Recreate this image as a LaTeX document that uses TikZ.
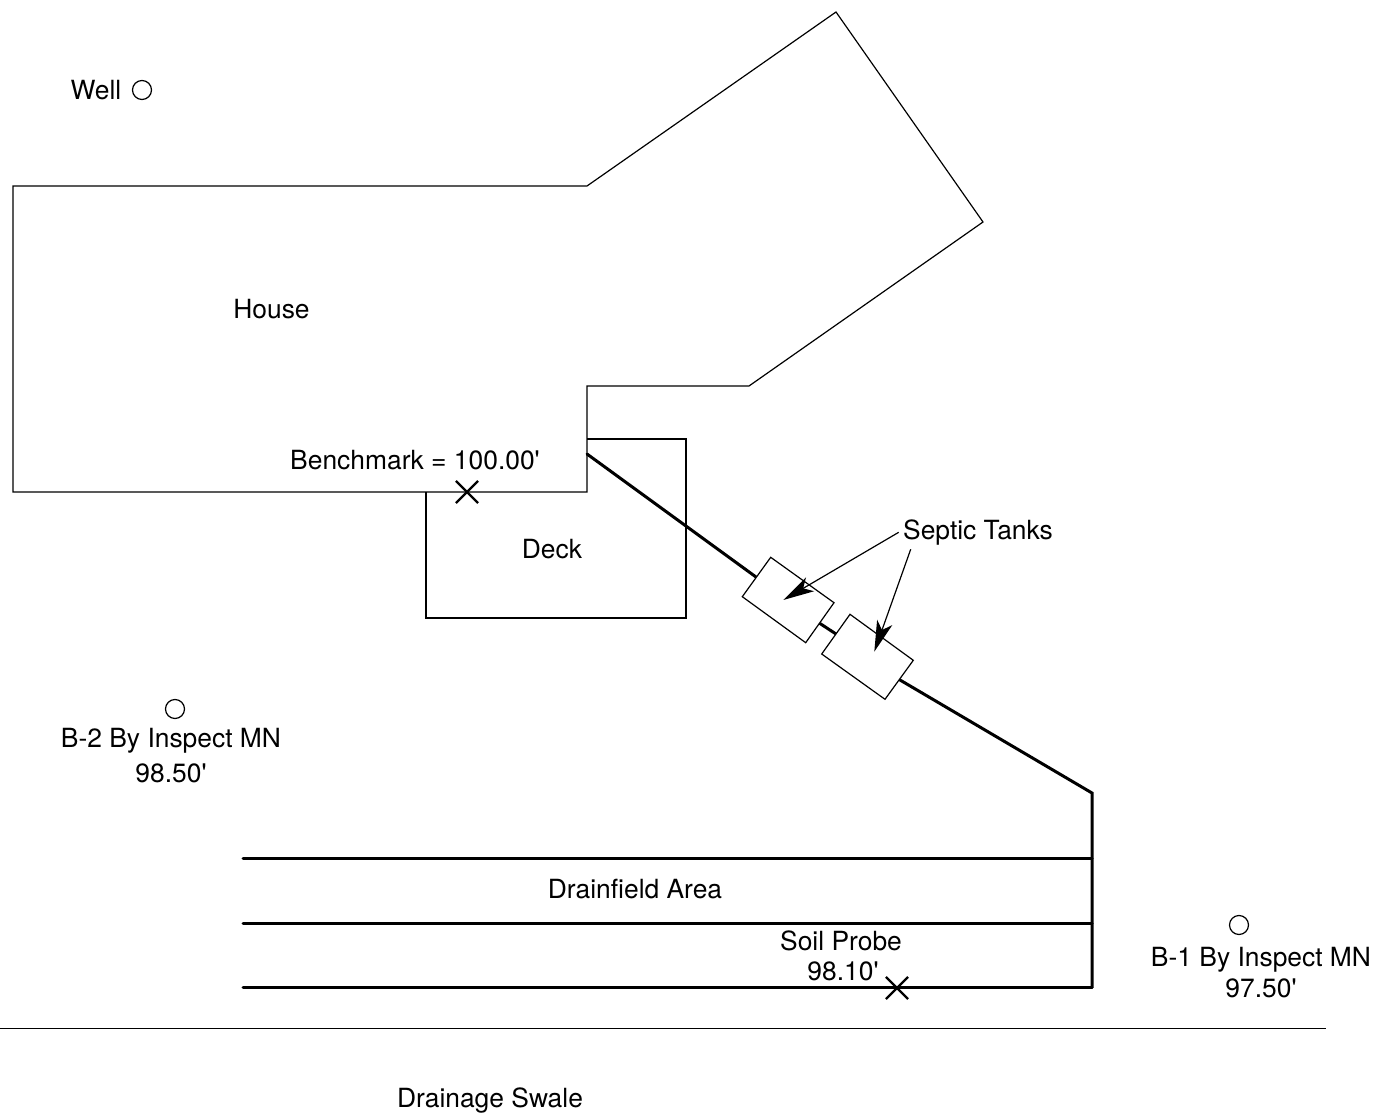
\documentclass[tikz,border=0pt]{standalone}
\usepackage{fontspec}
\setmainfont{TeX Gyre Heros}
\usetikzlibrary{arrows.meta,shapes.misc}
\newcommand{\ft}{\textquotesingle}
\tikzset{
  thinline/.style={line width=1.2pt,line join=miter},
  thickline/.style={line width=3pt,line cap=round},
  label/.style={anchor=base,inner sep=0pt,yshift=-0.7pt,font=\fontsize{26.4}{30}\selectfont},
  well/.style={draw,circle,line width=1.2pt,minimum size=19pt,inner sep=0pt},
  probe/.style={draw,cross out,line width=2.2pt,minimum size=20pt,inner sep=0pt},
  pointer/.style={line width=1.2pt,-{Stealth[length=31pt,width=16pt,inset=8pt]}}
}
\begin{document}
\begin{tikzpicture}[x=1pt,y=-1pt]
  \useasboundingbox (0,0) rectangle (1385,1115);

  % House
  \draw[thinline] (13,186) -- (587,186) -- (836,12) -- (983,222) -- (749,386)
    -- (587,386) -- (587,492) -- (13,492) -- cycle;
  % Deck
  \draw[thinline] (426,492) -- (426,618) -- (686,618) -- (686,439) -- (587,439);

  % Drainage Swale line
  \draw[thinline] (0,1028.5) -- (1326,1028.5);

  % Pipe corners
  \coordinate (pipeStart) at (587,454);
  \coordinate (tankAin) at (756,577);
  \coordinate (tankAout) at (820,623.5);
  \coordinate (tankBin) at (836,634);
  \coordinate (tankBout) at (900,680);
  \coordinate (pipeCorner) at (1092,793);
  \coordinate (pipeEnd) at (1092,987.4);
  \draw[thickline] (pipeStart) -- (tankAin);
  \draw[thickline] (tankAout) -- (tankBin);
  \draw[thickline] (tankBout) -- (pipeCorner) -- (pipeEnd);

  % Drainfield lines
  \coordinate (fieldA) at (1092,858.4);
  \coordinate (fieldB) at (1092,923.4);
  \draw[thickline] (243,858.4) -- (fieldA);
  \draw[thickline] (243,923.4) -- (fieldB);
  \draw[thickline] (243,987.4) -- (pipeEnd);

  % Septic tanks
  \draw[thinline,fill=white] (770.7,557.3) -- (834,602.7) -- (805.7,642.7) -- (742.3,596.7) -- cycle;
  \draw[thinline,fill=white] (850,614.3) -- (913.3,660.3) -- (885,699.3) -- (821.7,654) -- cycle;

  % Marks
  \node[well] (wellMark) at (142,90) {};
  \node[well] (markB2) at (175,709) {};
  \node[well] (markB1) at (1239,925) {};
  \node[probe] (benchMark) at (467,492) {};
  \node[probe] (soilMark) at (897,988) {};

  % Labels
  \node[label] (wellLabel) at (96,99) {Well};
  \node[label] (houseLabel) at (271.5,318) {House};
  \node[label] (benchLabel) at (415,469) {Benchmark = 100.00\ft};
  \node[label] (deckLabel) at (552,558) {Deck};
  \node[label] (septicLabel) at (978,539) {Septic Tanks};
  \node[label] (labelB2) at (171,747) {B-2 By Inspect MN};
  \node[label] (levelB2) at (171,782) {98.50\ft};
  \node[label] (fieldLabel) at (635,898) {Drainfield Area};
  \node[label] (soilLabel) at (841,950) {Soil Probe};
  \node[label] (soilLevel) at (843,980) {98.10\ft};
  \node[label] (labelB1) at (1261,966) {B-1 By Inspect MN};
  \node[label] (levelB1) at (1261,997) {97.50\ft};
  \node[label] (swaleLabel) at (490,1107) {Drainage Swale};

  % Pointers to the tanks
  \coordinate (pointA) at (898.7,532.3);
  \coordinate (pointB) at (910.7,549.3);
  \coordinate (tipA) at (783.3,600);
  \coordinate (tipB) at (874.3,651.7);
  \draw[pointer] (pointA) -- (tipA);
  \draw[pointer] (pointB) -- (tipB);
\end{tikzpicture}
\end{document}
